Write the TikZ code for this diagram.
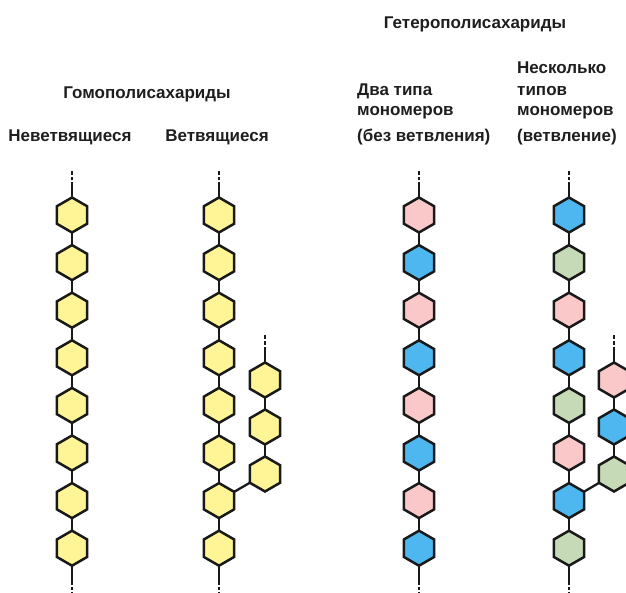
\documentclass[tikz,border=0pt]{standalone}
\usepackage{fontspec}
\setmainfont{Liberation Sans}
\usetikzlibrary{shapes.geometric}
\definecolor{cy}{RGB}{255,245,150}
\definecolor{cp}{RGB}{250,200,200}
\definecolor{cb}{RGB}{78,183,240}
\definecolor{cg}{RGB}{198,218,183}
\definecolor{lineC}{RGB}{25,25,25}
\definecolor{txt}{RGB}{30,30,30}
\begin{document}
\begin{tikzpicture}[x=1pt,y=-1pt,
  hex/.style={regular polygon, regular polygon sides=6, shape border rotate=30,
    minimum size=35pt, inner sep=0pt, outer sep=0pt, draw=lineC, line width=2.5pt},
  bond/.style={draw=lineC, line width=2.3pt},
  tail/.style={draw=lineC, line width=2.3pt, dash pattern=on 3.5pt off 2pt},
  lab/.style={font=\bfseries\fontsize{17}{20}\selectfont, text=txt, inner sep=0pt},
  labl/.style={lab, anchor=base west},
  labc/.style={lab, anchor=base}
]
\useasboundingbox (0,0) rectangle (626,593);

% ---------- labels ----------
\node[labc] (hom) at (147,99) {Гомополисахариды};
\node[labc] (nev) at (70,142) {Неветвящиеся};
\node[labc] (vet) at (217,142) {Ветвящиеся};
\node[labc] (het) at (475,29) {Гетерополисахариды};
\node[labl] (dva1) at (357,96) {Два типа};
\node[labl] (dva2) at (357,116) {мономеров};
\node[labl] (dva3) at (357,142) {(без ветвления)};
\node[labl] (nes1) at (517,74) {Несколько};
\node[labl] (nes2) at (517,96) {типов};
\node[labl] (nes3) at (517,116) {мономеров};
\node[labl] (nes4) at (517,142) {(ветвление)};

% ---------- column a : unbranched homopolysaccharide ----------
\foreach \i in {1,...,8}
  \node[hex, fill=cy] (a\i) at (72,{215+(\i-1)*47.6}) {};
% ---------- column b : branched homopolysaccharide ----------
\foreach \i in {1,...,8}
  \node[hex, fill=cy] (b\i) at (219,{215+(\i-1)*47.6}) {};
\foreach \i in {1,...,3}
  \node[hex, fill=cy] (bb\i) at (265,{380+(\i-1)*47}) {};
% ---------- column c : two monomer types ----------
\foreach \i/\c in {1/cp,2/cb,3/cp,4/cb,5/cp,6/cb,7/cp,8/cb}
  \node[hex, fill=\c] (c\i) at (419,{215+(\i-1)*47.6}) {};
% ---------- column d : several monomer types, branched ----------
\foreach \i/\c in {1/cb,2/cg,3/cp,4/cb,5/cg,6/cp,7/cb,8/cg}
  \node[hex, fill=\c] (d\i) at (569,{215+(\i-1)*47.6}) {};
\foreach \i/\c in {1/cp,2/cb,3/cg}
  \node[hex, fill=\c] (dd\i) at (614,{380+(\i-1)*47}) {};

% ---------- bonds ----------
\foreach \n in {a,b,c,d}{
  \foreach \i [count=\j from 2] in {1,...,7}
    \draw[bond] (\n\i) -- (\n\j);
}
\foreach \n in {bb,dd}{
  \foreach \i [count=\j from 2] in {1,2}
    \draw[bond] (\n\i) -- (\n\j);
}
\draw[bond] (b7) -- (bb3);
\draw[bond] (d7) -- (dd3);

% ---------- chain ends ----------
\foreach \n/\x in {a/72,b/219,c/419,d/569}{
  \coordinate (\n top) at (\x,170);
  \coordinate (\n topm) at (\x,186);
  \draw[bond] (\n1) -- (\n topm);
  \draw[tail] (\n topm) -- (\n top);
  \coordinate (\n bot) at (\x,593);
  \coordinate (\n botm) at (\x,581);
  \draw[bond] (\n8) -- (\n botm);
  \draw[tail] (\n botm) -- (\n bot);
}
\foreach \n/\x in {bb/265,dd/614}{
  \coordinate (\n top) at (\x,334);
  \coordinate (\n topm) at (\x,350);
  \draw[bond] (\n1) -- (\n topm);
  \draw[tail] (\n topm) -- (\n top);
}
\end{tikzpicture}
\end{document}
